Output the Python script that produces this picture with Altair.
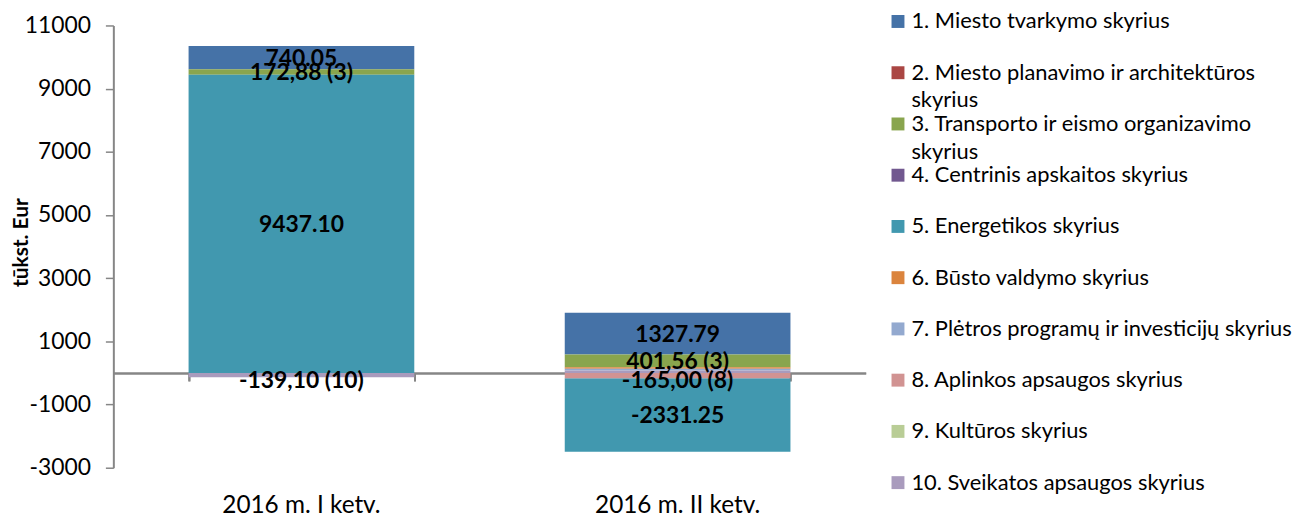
import altair as alt
import pandas as pd

quarters = ["2016 m. I ketv.", "2016 m. II ketv."]
series = [
    "1. Miesto tvarkymo skyrius",
    "2. Miesto planavimo ir architektūros skyrius",
    "3. Transporto ir eismo organizavimo skyrius",
    "4. Centrinis apskaitos skyrius",
    "5. Energetikos skyrius",
    "6. Būsto valdymo skyrius",
    "7. Plėtros programų ir investicijų skyrius",
    "8. Aplinkos apsaugos skyrius",
    "9. Kultūros skyrius",
    "10. Sveikatos apsaugos skyrius",
]
legend_text = [
    "1. Miesto tvarkymo skyrius",
    "2. Miesto planavimo ir architektūros\nskyrius",
    "3. Transporto ir eismo organizavimo\nskyrius",
    "4. Centrinis apskaitos skyrius",
    "5. Energetikos skyrius",
    "6. Būsto valdymo skyrius",
    "7. Plėtros programų ir investicijų skyrius",
    "8. Aplinkos apsaugos skyrius",
    "9. Kultūros skyrius",
    "10. Sveikatos apsaugos skyrius",
]
colors = ["#4572A7", "#AA4643", "#89A54E", "#71588F", "#4198AF",
          "#DB843D", "#93A9CF", "#D19392", "#B9CD96", "#A99BBD"]

q1_values = [740.05, 0, 172.88, 0, 9437.10, 0, 0, 0, 0, -139.10]
q2_values = [1327.79, 0, 401.56, 0, -2331.25, 50, 50, -165.00, 0, 80]
q1_labels = ["740.05", "", "172,88 (3)", "", "9437.10", "", "", "", "", "-139,10 (10)"]
q2_labels = ["1327.79", "", "401,56 (3)", "", "-2331.25", "", "", "-165,00 (8)", "", ""]
y_ticks = [-3000, -1000, 1000, 3000, 5000, 7000, 9000, 11000]

Y_MIN, Y_MAX = -3000, 11000
W, H = 757, 445
FONT = "Lato"
GRAY = "#868686"

rows = []
for q, vals, labs in [(quarters[0], q1_values, q1_labels), (quarters[1], q2_values, q2_labels)]:
    for i, (s, v, l) in enumerate(zip(series, vals, labs)):
        rows.append({"quarter": q, "series": s, "idx": i + 1, "value": v, "label": l})
df = pd.DataFrame(rows)

leg_df = pd.DataFrame({"series": series, "idx": list(range(1, 11)), "txt": legend_text})

color_enc = alt.Color("series:N", scale=alt.Scale(domain=series, range=colors), legend=None)
x_scale = alt.Scale(paddingInner=0.4, paddingOuter=0.2)
y_scale = alt.Scale(domain=[Y_MIN, Y_MAX], nice=False, zero=False)
y_axis = alt.Axis(values=y_ticks, labelExpr="'' + datum.value", title="tūkst. Eur", grid=False,
                  tickSize=8, tickColor=GRAY, tickWidth=1.5,
                  domainColor=GRAY, domainWidth=2, labelPadding=15,
                  labelFont=FONT, labelFontSize=23, labelColor="black",
                  labelFlush=False, labelOverlap=False,
                  titleFont=FONT, titleFontSize=21, titleFontWeight="bold",
                  titleColor="black", titleX=-82, titleY=218)

base = alt.Chart(df).transform_stack(
    stack="value", as_=["v0", "v1"], groupby=["quarter"],
    sort=[alt.SortField("idx", order="descending")],
).transform_calculate(mid="(datum.v0 + datum.v1) / 2")

bars = base.mark_bar().encode(
    x=alt.X("quarter:N", sort=quarters, scale=x_scale,
            axis=alt.Axis(orient="bottom", title=None, labelAngle=0, domain=False,
                          ticks=False, tickSize=0, labelPadding=26, labelFont=FONT,
                          labelFontSize=24.5, labelColor="black")),
    y=alt.Y("v0:Q", scale=y_scale, axis=y_axis),
    y2="v1:Q",
    color=color_enc,
)

zero_offset = -H * (0 - Y_MIN) / (Y_MAX - Y_MIN)

zero_axis = alt.Axis(orient="bottom", offset=zero_offset, labels=False, title=None,
                     domainColor=GRAY, domainWidth=2, ticks=True, tickBand="extent",
                     tickSize=8, tickColor=GRAY, tickWidth=2, grid=False)

text = base.transform_filter("datum.label != '' && !(datum.value < 0 && datum.value > -500)").mark_text(
    font=FONT, fontSize=23, fontWeight="bold", color="black", baseline="middle", dy=1
).encode(
    x=alt.X("quarter:N", sort=quarters, scale=x_scale, axis=zero_axis),
    y=alt.Y("mid:Q", scale=y_scale, axis=y_axis),
    text="label:N",
)

text_small_neg = base.transform_filter("datum.label != '' && datum.value < 0 && datum.value > -500").mark_text(
    font=FONT, fontSize=23, fontWeight="bold", color="black", baseline="middle", dy=6
).encode(
    x=alt.X("quarter:N", sort=quarters, scale=x_scale, axis=zero_axis),
    y=alt.Y("mid:Q", scale=y_scale, axis=y_axis),
    text="label:N",
)

main = alt.layer(bars, text, text_small_neg).resolve_axis(x="independent")

leg_y = alt.Y("idx:Q", scale=alt.Scale(domain=[1, 10], range=[-4, 460], nice=False, zero=False),
              axis=None)
squares = alt.Chart(leg_df).mark_square(size=169, opacity=1).encode(
    x=alt.value(789.5), y=leg_y, color=color_enc)
ltext = alt.Chart(leg_df).mark_text(
    align="left", baseline="top", dy=-10, font=FONT, fontSize=22, lineHeight=28,
    lineBreak="\n", color="black"
).encode(x=alt.value(803), y=leg_y, text="txt:N")
legend = alt.layer(squares, ltext)

chart = alt.layer(main, legend).resolve_scale(y="independent").properties(
    width=W, height=H,
    background="white",
    autosize=alt.AutoSizeParams(type="none"),
    padding={"left": 106, "top": 16, "right": 436, "bottom": 46},
).configure_view(strokeWidth=0, stroke="transparent")

chart.save("out.html", embed_options={"renderer": "svg", "actions": False})
